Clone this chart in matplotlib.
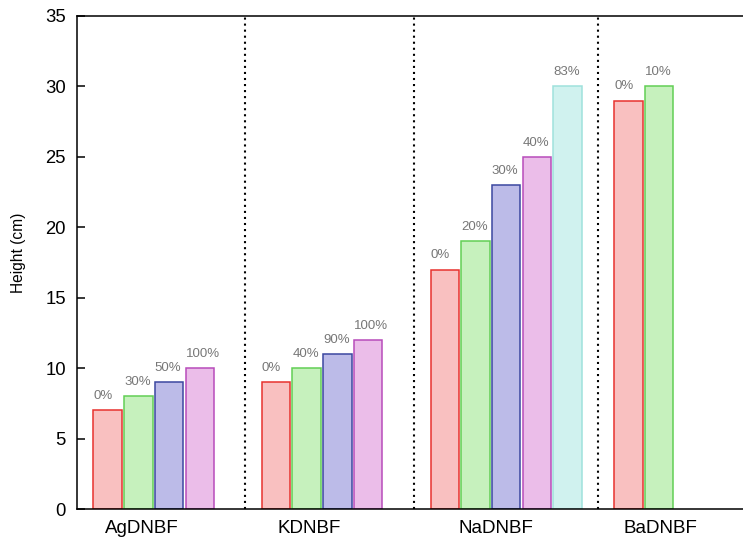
import matplotlib
matplotlib.use("Agg")
import matplotlib.pyplot as plt

plt.rcParams['font.family'] = ['Liberation Sans', 'DejaVu Sans']

# data
groups = ['AgDNBF', 'KDNBF', 'NaDNBF', 'BaDNBF']
heights = [
    [7, 8, 9, 10],
    [9, 10, 11, 12],
    [17, 19, 23, 25, 30],
    [29, 30],
]
pct_labels = [
    ['0%', '30%', '50%', '100%'],
    ['0%', '40%', '90%', '100%'],
    ['0%', '20%', '30%', '40%', '83%'],
    ['0%', '10%'],
]

# layout of the histogram slots
group_start = [1.0, 6.48, 11.98, 17.96]
separators = [5.47, 10.98, 16.96]
label_pos = [2.12, 7.57, 13.66, 19.02]

edge_cols = ['#e8322e', '#62cf55', '#3b47a0', '#b84cbb', '#9fe2dc']
face_cols = ['#f9c0c0', '#c6f1bd', '#bcbbe8', '#ebbde9', '#d0f2ef']
bar_w = 0.93

fig = plt.figure(figsize=(7.43, 5.38), dpi=100)
ax = fig.add_axes([77 / 743, 1 - 509 / 538, 666 / 743, 493 / 538])

for g, vals in enumerate(heights):
    for i, v in enumerate(vals):
        x = group_start[g] + i
        ax.bar(x, v, width=bar_w, color=face_cols[i], edgecolor=edge_cols[i],
               linewidth=1.1, zorder=2)
        ax.annotate(pct_labels[g][i], (x - bar_w / 2, v), xytext=(0, 6),
                    textcoords='offset points', ha='left', va='bottom',
                    fontsize=9.5, color='#777777')

for s in separators:
    ax.axvline(s, color='black', linewidth=1.5, linestyle=(0, (1, 1.9)), zorder=1)

ax.set_xlim(0, 666 / 30.7)
ax.set_ylim(0, 35)
ax.set_yticks(range(0, 36, 5))
ax.set_xticks(label_pos)
ax.set_xticklabels(groups)
ax.tick_params(axis='y', direction='in', length=6, width=1.1, labelsize=13.3, pad=8)
ax.tick_params(axis='x', length=0, labelsize=13.5, pad=8)
ax.set_ylabel('Height (cm)', fontsize=11.2)
ax.yaxis.set_label_coords(-0.077, 0.52)

ax.spines['right'].set_visible(False)
for sp in ['left', 'top', 'bottom']:
    ax.spines[sp].set_linewidth(1.1)

fig.savefig('out.png', dpi=100)
